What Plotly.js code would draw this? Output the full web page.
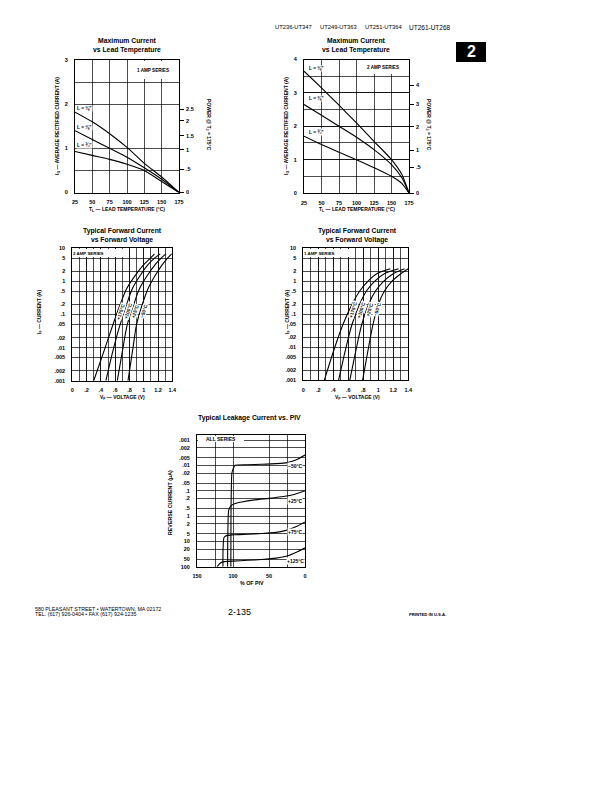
<!DOCTYPE html>
<html><head><meta charset="utf-8">
<script src="https://cdn.plot.ly/plotly-3.0.1.min.js"></script>
<style>html,body{margin:0;padding:0;background:#fff}#chart{width:612px;height:792px}</style>
</head><body><div id="chart"></div>
<script>
// ---------------- DATA ----------------
// Maximum current vs lead temperature
const leadTemp1 = [25, 50, 75, 100, 125, 150, 175];
const amp1_L18 = [1.82, 1.6, 1.33, 1.02, 0.66, 0.35, 0];
const amp1_L38 = [1.40, 1.2, 1.0, 0.8, 0.56, 0.3, 0];
const amp1_L34 = [0.93, 0.84, 0.75, 0.64, 0.5, 0.25, 0];
const leadTemp2 = [25, 50, 75, 100, 125, 150, 165, 175];
const amp2_L18 = [3.65, 3.15, 2.63, 2.1, 1.55, 1.0, 0.55, 0];
const amp2_L38 = [2.65, 2.33, 2.0, 1.67, 1.3, 0.85, 0.45, 0];
const amp2_L34 = [1.7, 1.45, 1.22, 1.0, 0.76, 0.5, 0.28, 0];
const leadLabels = ['L = ⅛"', 'L = ⅜"', 'L = ¾"'];
const tempTicks = [25, 50, 75, 100, 125, 150, 175];
const tempTickText = ['25', '50', '75', '100', '125', '150', '175'];
const power1Ticks = [1.88, 1.62, 1.28, 0.97, 0.53, 0];
const power1Text = ['2.5', '2', '1.5', '1', '.5', '0'];
const power2Ticks = [3.22, 2.66, 1.98, 1.28, 0.77, 0];
const power2Text = ['4', '3', '2', '1', '.5', '0'];

// Typical forward current vs forward voltage
const fwdI_2A = [0.001, 0.01, 0.05, 0.2, 0.6, 1.5, 3.2, 5.2, 6.8];
const vf2A_175 = [0.30, 0.46, 0.57, 0.67, 0.76, 0.88, 1.0, 1.1, 1.15];
const vf2A_100 = [0.47, 0.58, 0.67, 0.76, 0.84, 0.95, 1.06, 1.16, 1.23];
const vf2A_25 = [0.63, 0.71, 0.77, 0.86, 0.94, 1.05, 1.16, 1.25, 1.31];
const vf2A_m50 = [0.78, 0.85, 0.90, 0.98, 1.06, 1.16, 1.26, 1.34, 1.39];
const fwdI_1A = [0.001, 0.01, 0.05, 0.2, 0.5, 1, 1.7, 2.4];
const vf1A_175 = [0.28, 0.42, 0.53, 0.65, 0.75, 0.86, 0.98, 1.16];
const vf1A_100 = [0.47, 0.57, 0.65, 0.75, 0.84, 0.95, 1.08, 1.27];
const vf1A_25 = [0.62, 0.71, 0.78, 0.87, 0.96, 1.07, 1.2, 1.35];
const vf1A_m50 = [0.79, 0.87, 0.93, 1.0, 1.08, 1.18, 1.3, 1.4];
const fwdTempLabels = ['+175°C', '+100°C', '+25°C', '−50°C'];
const vTicks = [0, 0.2, 0.4, 0.6, 0.8, 1, 1.2, 1.4];
const vTickText = ['0', '.2', '.4', '.6', '.8', '1', '1.2', '1.4'];
const iTicks = [0.001, 0.002, 0.005, 0.01, 0.02, 0.05, 0.1, 0.2, 0.5, 1, 2, 5, 10];
const iTickText = ['.001', '.002', '.005', '.01', '.02', '.05', '.1', '.2', '.5', '1', '2', '5', '10'];

// Typical leakage current vs PIV
const piv_m50 = [103, 102.8, 101.5, 99, 97, 80, 60, 40, 25, 12, 0];
const ir_m50 = [100, 1, 0.02, 0.012, 0.0098, 0.0094, 0.009, 0.0085, 0.0078, 0.006, 0.0039];
const piv_25 = [107.5, 107.2, 106, 103, 98, 88, 70, 50, 30, 15, 0];
const ir_25 = [100, 5, 0.6, 0.4, 0.33, 0.28, 0.23, 0.2, 0.17, 0.14, 0.1];
const piv_75 = [114, 113.8, 112.5, 108, 100, 80, 60, 40, 25, 12, 0];
const ir_75 = [100, 20, 7, 5.8, 5.5, 5.2, 4.9, 4.4, 3.6, 2.6, 1.7];
const piv_125 = [122, 120, 117, 112, 100, 80, 60, 40, 25, 12, 0];
const ir_125 = [100, 85, 70, 63, 60, 56, 52, 46, 38, 27, 18];
const leakLabels = ['−50°C', '+25°C', '+75°C', '+125°C'];
const pivTicks = [150, 100, 50, 0];
const pivTickText = ['150', '100', '50', '0'];
const irTicks = [0.001, 0.002, 0.005, 0.01, 0.02, 0.05, 0.1, 0.2, 0.5, 1, 2, 5, 10, 20, 50, 100];
const irTickText = ['.001', '.002', '.005', '.01', '.02', '.05', '.1', '.2', '.5', '1', '2', '5', '10', '20', '50', '100'];

// ---------------- LAYOUT HELPERS ----------------
const W = 612, H = 792;
const fx = p => p / W, fy = p => 1 - p / H;
const FONT = 'Liberation Sans, Arial, sans-serif';
const tickFont = {family: FONT, size: 5.5, color: '#000', weight: 'bold'};
const sub = t => '<span style="font-size:70%;baseline-shift:-25%">' + t + '</span>';

const traces = [];
function curve(x, y, xa, ya, sm) {
  traces.push({type: 'scatter', mode: 'lines', x: x, y: y, xaxis: xa, yaxis: ya,
    line: {color: '#000', width: 1.1, shape: 'spline', smoothing: sm},
    hoverinfo: 'skip', showlegend: false});
}
curve(leadTemp1, amp1_L18, 'x', 'y', 0.6);
curve(leadTemp1, amp1_L38, 'x', 'y', 0.6);
curve(leadTemp1, amp1_L34, 'x', 'y', 0.6);
traces.push({type: 'scatter', mode: 'lines', x: [null], y: [null], xaxis: 'x', yaxis: 'y2', showlegend: false, hoverinfo: 'skip'});
curve(leadTemp2, amp2_L18, 'x3', 'y3', 0.6);
curve(leadTemp2, amp2_L38, 'x3', 'y3', 0.6);
curve(leadTemp2, amp2_L34, 'x3', 'y3', 0.6);
traces.push({type: 'scatter', mode: 'lines', x: [null], y: [null], xaxis: 'x3', yaxis: 'y4', showlegend: false, hoverinfo: 'skip'});
[vf2A_175, vf2A_100, vf2A_25, vf2A_m50].forEach(v => curve(v, fwdI_2A, 'x5', 'y5', 0.8));
[vf1A_175, vf1A_100, vf1A_25, vf1A_m50].forEach(v => curve(v, fwdI_1A, 'x6', 'y6', 0.8));
curve(piv_m50, ir_m50, 'x7', 'y7', 0.5);
curve(piv_25, ir_25, 'x7', 'y7', 0.5);
curve(piv_75, ir_75, 'x7', 'y7', 0.5);
curve(piv_125, ir_125, 'x7', 'y7', 0.5);

function ax(o) {
  return Object.assign({showline: true, mirror: true, linecolor: '#000', linewidth: 1,
    showgrid: true, gridcolor: '#000', gridwidth: 0.7, zeroline: false, ticks: '',
    tickfont: tickFont, fixedrange: true, automargin: false}, o);
}
function rightAx(over, anchor, range, tv, tt) {
  return {overlaying: over, side: 'right', anchor: anchor, range: range, tickvals: tv, ticktext: tt,
    showgrid: false, zeroline: false, showline: false, ticks: 'outside', ticklen: 4,
    tickcolor: '#000', tickwidth: 1, tickfont: tickFont, fixedrange: true, ticklabelstandoff: 1};
}
const gridMinor = (o) => Object.assign({showgrid: true, gridcolor: '#000', gridwidth: 0.7, ticks: ''}, o);

const layout = {
  width: W, height: H, margin: {l: 0, r: 0, t: 0, b: 0},
  paper_bgcolor: '#fff', plot_bgcolor: '#fff', showlegend: false,
  // chart 1
  xaxis: ax({domain: [fx(75), fx(179)], range: [25, 175], tickvals: tempTicks, ticktext: tempTickText, anchor: 'y', ticklabelstandoff: 4}),
  yaxis: ax({domain: [fy(192.5), fy(60)], range: [0, 3], tickvals: [0, 1, 2, 3], ticktext: ['0', '1', '2', '3'], anchor: 'x', ticklabelstandoff: 5,
    minor: gridMinor({tickmode: 'array', tickvals: [0.5, 2.5]})}),
  yaxis2: rightAx('y', 'x', [0, 3], power1Ticks, power1Text),
  // chart 2
  xaxis3: ax({domain: [fx(304), fx(409)], range: [25, 175], tickvals: tempTicks, ticktext: tempTickText, anchor: 'y3', ticklabelstandoff: 4}),
  yaxis3: ax({domain: [fy(193), fy(59.5)], range: [0, 4], tickvals: [0, 1, 2, 3, 4], ticktext: ['0', '1', '2', '3', '4'], anchor: 'x3', ticklabelstandoff: 5,
    minor: gridMinor({dtick: 0.5})}),
  yaxis4: rightAx('y3', 'x3', [0, 4], power2Ticks, power2Text),
  // chart 3
  xaxis5: ax({domain: [fx(72.3), fx(172.3)], range: [0, 1.4], tickvals: vTicks, ticktext: vTickText, anchor: 'y5', ticklabelstandoff: 4, minor: gridMinor({dtick: 0.1})}),
  yaxis5: ax({domain: [fy(380.7), fy(248.3)], type: 'log', range: [-3, 1], tickvals: iTicks, ticktext: iTickText, anchor: 'x5', ticklabelstandoff: 5}),
  // chart 4
  xaxis6: ax({domain: [fx(303.3), fx(408.3)], range: [0, 1.4], tickvals: vTicks, ticktext: vTickText, anchor: 'y6', ticklabelstandoff: 4, minor: gridMinor({dtick: 0.1})}),
  yaxis6: ax({domain: [fy(380.3), fy(248.3)], type: 'log', range: [-3, 1], tickvals: iTicks, ticktext: iTickText, anchor: 'x6', ticklabelstandoff: 5}),
  // chart 5
  xaxis7: ax({domain: [fx(197), fx(305)], range: [150, 0], tickvals: pivTicks, ticktext: pivTickText, anchor: 'y7', ticklabelstandoff: 4,
    minor: gridMinor({tickmode: 'array', tickvals: [125, 25]})}),
  yaxis7: ax({domain: [fy(566.7), fy(435)], type: 'log', range: [2, -3.2], tickvals: irTicks, ticktext: irTickText, anchor: 'x7', ticklabelstandoff: 5}),
  shapes: [
    {type: 'rect', xref: 'paper', yref: 'paper', x0: fx(456), x1: fx(486), y0: fy(62), y1: fy(42), fillcolor: '#000', line: {width: 0}}
  ],
  annotations: []
};

const A = layout.annotations;
function ptxt(x, y, text, size, opts) {
  A.push(Object.assign({xref: 'paper', yref: 'paper', x: fx(x), y: fy(y), text: text, showarrow: false,
    font: {family: FONT, size: size, color: '#000'}, xanchor: 'center', yanchor: 'middle'}, opts || {}));
}
function dtxt(xr, yr, x, y, text, size, opts) {
  A.push(Object.assign({xref: xr, yref: yr, x: x, y: y, text: text, showarrow: false,
    font: {family: FONT, size: size, color: '#000'}, xanchor: 'center', yanchor: 'middle'}, opts || {}));
}

// header
ptxt(273, 27.5, 'UT236-UT347', 5.8, {xanchor: 'left'});
ptxt(318, 27.5, 'UT249-UT363', 5.8, {xanchor: 'left'});
ptxt(363, 27.5, 'UT251-UT364', 5.8, {xanchor: 'left'});
ptxt(406.5, 27.5, 'UT261-UT268', 6.5, {xanchor: 'left'});
ptxt(471, 52, '<b>2</b>', 16, {font: {family: FONT, size: 16, color: '#fff'}});

// chart titles
ptxt(127, 46, '<b>Maximum Current<br>vs Lead Temperature</b>', 6.8);
ptxt(356, 46, '<b>Maximum Current<br>vs Lead Temperature</b>', 6.8);
ptxt(122, 235, '<b>Typical Forward Current<br>vs Forward Voltage</b>', 6.8);
ptxt(357, 235, '<b>Typical Forward Current<br>vs Forward Voltage</b>', 6.8);
ptxt(249, 417.5, '<b>Typical Leakage Current vs. PIV</b>', 6.8);

// axis titles
const ioTitle = '<b>I' + sub('O') + ' — AVERAGE RECTIFIED CURRENT (A)</b>';
ptxt(58, 126, ioTitle, 5, {textangle: -90});
ptxt(287, 126, ioTitle, 5, {textangle: -90});
ptxt(127, 209.5, '<b>T' + sub('L') + ' — LEAD TEMPERATURE (°C)</b>', 5);
ptxt(357, 209.5, '<b>T' + sub('L') + ' — LEAD TEMPERATURE (°C)</b>', 5);
ptxt(209, 125, '<b>POWER @ T' + sub('J') + ' = 175°C</b>', 5, {textangle: 90});
ptxt(429, 125, '<b>POWER @ T' + sub('J') + ' = 175°C</b>', 5, {textangle: 90});
ptxt(39, 312, '<b>I' + sub('F') + ' — CURRENT (A)</b>', 5, {textangle: -90});
ptxt(287, 312, '<b>I' + sub('F') + ' — CURRENT (A)</b>', 5, {textangle: -90});
ptxt(122, 397, '<b>V' + sub('F') + ' — VOLTAGE (V)</b>', 5);
ptxt(357, 397, '<b>V' + sub('F') + ' — VOLTAGE (V)</b>', 5);
ptxt(170, 503, '<b>REVERSE CURRENT (μA)</b>', 5.3, {textangle: -90});
ptxt(252, 583, '<b>% OF PIV</b>', 5.3);

// series boxes
const boxOpt = {bgcolor: '#fff', borderpad: 0, borderwidth: 0};
dtxt('x', 'y', 138, 2.77, '<b>1 AMP SERIES</b>', 4.6, Object.assign({width: 50, height: 18}, boxOpt));
dtxt('x3', 'y3', 138, 3.77, '<b>2 AMP SERIES</b>', 4.6, Object.assign({width: 50, height: 14}, boxOpt));
dtxt('x5', 'y5', 0.01, 1, '<b>2 AMP SERIES</b>', 4.4, Object.assign({width: 50, height: 8, xanchor: 'left', yanchor: 'top', yshift: -0.6, align: 'left'}, boxOpt));
dtxt('x6', 'y6', 0.01, 1, '<b>1 AMP SERIES</b>', 4.4, Object.assign({width: 48, height: 8, xanchor: 'left', yanchor: 'top', yshift: -0.6, align: 'left'}, boxOpt));
dtxt('x7', 'y7', 149, -3.2, '<b>ALL SERIES</b>', 5, Object.assign({width: 46, height: 5.5, xanchor: 'left', yanchor: 'top', yshift: -0.6}, boxOpt));

// lead length labels
[1.9, 1.48, 1.07].forEach((yv, i) => dtxt('x', 'y', 27, yv, '<b>' + leadLabels[i] + '</b>', 4.8, {xanchor: 'left', bgcolor: '#fff', borderpad: 0}));
[3.74, 2.83, 1.83].forEach((yv, i) => dtxt('x3', 'y3', 30, yv, '<b>' + leadLabels[i] + '</b>', 4.8, {xanchor: 'left', bgcolor: '#fff', borderpad: 0}));

// forward temperature labels (rotated)
[0.68, 0.78, 0.88, 1.0].forEach((xv, i) => dtxt('x5', 'y5', xv, -0.9, '<b>' + fwdTempLabels[i] + '</b>', 4.8, {textangle: -72, bgcolor: '#fff', borderpad: 0}));
[0.67, 0.78, 0.89, 0.99].forEach((xv, i) => dtxt('x6', 'y6', xv, -0.86, '<b>' + fwdTempLabels[i] + '</b>', 4.8, {textangle: -72, bgcolor: '#fff', borderpad: 0}));

// leakage temperature labels
[[14, -1.97], [14, -0.6], [14, 0.645], [13, 1.76]].forEach((p, i) =>
  dtxt('x7', 'y7', p[0], p[1], '<b>' + leakLabels[i] + '</b>', 5, {bgcolor: '#fff', borderpad: 0}));

// footer
ptxt(33, 608.5, '580 PLEASANT STREET • WATERTOWN, MA 02172', 5.3, {xanchor: 'left'});
ptxt(33, 614, 'TEL. (617) 926-0404 • FAX (617) 924-1235', 5.3, {xanchor: 'left'});
ptxt(239, 612, '2-135', 9);
ptxt(427, 614.5, '<b>PRINTED IN U.S.A.</b>', 4.2);

Plotly.newPlot('chart', traces, layout, {staticPlot: true, displayModeBar: false});
</script>
</body></html>
